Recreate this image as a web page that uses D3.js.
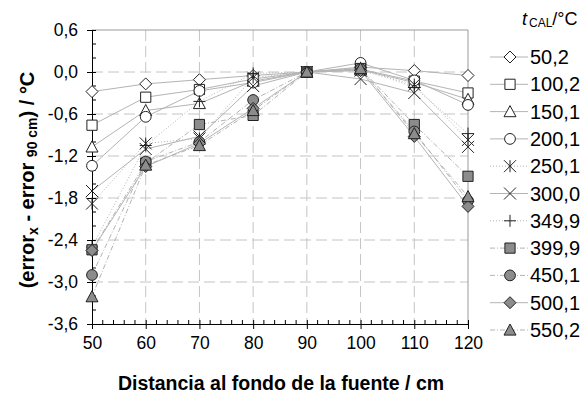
<!DOCTYPE html>
<html>
<head>
<meta charset="utf-8">
<script src="https://cdn.jsdelivr.net/npm/d3@7"></script>
<style>
body { margin: 0; background: #fff; }
text { font-family: Arial, "Liberation Sans", sans-serif; fill: #000; }
</style>
</head>
<body>
<div id="chart-area"></div>
<script>

// data
let distances = [50, 60, 70, 80, 90, 100, 110, 120];
let tCal = ["50,2", "100,2", "150,1", "200,1", "250,1", "300,0", "349,9", "399,9", "450,1", "500,1", "550,2"];
let s50  = [-0.28, -0.17, -0.11, -0.05, 0, 0.07, 0.02, -0.05];
let s100 = [-0.76, -0.36, -0.25, -0.10, 0, 0.04, -0.13, -0.30];
let s150 = [-1.07, -0.55, -0.45, -0.13, 0, 0.03, -0.15, -0.39];
let s200 = [-1.34, -0.64, -0.27, -0.15, 0, 0.13, -0.12, -0.47];
let s250 = [-1.88, -1.02, -0.95, -0.08, 0, 0.02, -0.18, -0.97];
let s300 = [-1.70, -1.10, -0.92, -0.20, 0, -0.10, -0.30, -1.07];
let s350 = [-2.50, -1.05, -0.42, -0.02, 0, 0.06, -0.22, -0.88];
let s400 = [-2.54, -1.30, -0.75, -0.62, 0, 0.05, -0.75, -1.49];
let s450 = [-2.90, -1.28, -1.00, -0.40, 0, 0.04, -0.85, -1.84];
let s500 = [-2.55, -1.35, -1.02, -0.52, 0, 0.02, -0.92, -1.92];
let s550 = [-3.21, -1.33, -1.05, -0.55, 0, 0.05, -0.88, -1.78];
let yTicks = [0.6, 0.0, -0.6, -1.2, -1.8, -2.4, -3.0, -3.6];

let allSeries = [s50, s100, s150, s200, s250, s300, s350, s400, s450, s500, s550];

// marker + line style per series
let markers = ["diamond", "square", "triangle", "circle", "asterisk", "times", "plus", "square", "circle", "diamond", "triangle"];
let filled = [false, false, false, false, false, false, false, true, true, true, true];
let dashes = [null, null, null, null, "1,2", null, "1,2", "5,2,1,2", "5,2,1,2", null, "5,2,1,2"];

let margin = {top: 30, right: 115, bottom: 80, left: 92};
let W = 583, H = 404;
let width = W - margin.left - margin.right,
	height = H - margin.top - margin.bottom;

let svg = d3.select("#chart-area").append("svg")
	.attr("width", W)
	.attr("height", H);

let g = svg.append("g")
	.attr("transform", "translate(" + margin.left + "," + margin.top + ")");

let x = d3.scaleLinear().domain([50, 120]).range([0, width]);
let y = d3.scaleLinear().domain([-3.6, 0.6]).range([height, 0]);

let fmt = d => d3.format(".1f")(d).replace(".", ",").replace("−", "-");

// grid
g.selectAll(".hgrid").data(yTicks.filter(d => d < 0.5 && d > -3.5))
	.enter().append("line")
	.attr("x1", 0).attr("x2", width)
	.attr("y1", d => y(d)).attr("y2", d => y(d))
	.attr("stroke", "#c4c4c4").attr("stroke-dasharray", "11,5");
g.selectAll(".vgrid").data(distances.filter(d => d > 50 && d < 120))
	.enter().append("line")
	.attr("x1", d => x(d)).attr("x2", d => x(d))
	.attr("y1", 0).attr("y2", height)
	.attr("stroke", "#c4c4c4").attr("stroke-dasharray", "11,5");

// top / right frame
g.append("line").attr("x1", 0).attr("x2", width).attr("y1", 0).attr("y2", 0).attr("stroke", "#999");
g.append("line").attr("x1", width).attr("x2", width).attr("y1", 0).attr("y2", height).attr("stroke", "#999");

// axes
let yAxis = g.append("g").call(d3.axisLeft(y).tickValues(yTicks).tickFormat(fmt).tickSize(5).tickPadding(9));
yAxis.select(".domain").attr("stroke", "#000");
yAxis.selectAll(".tick line").attr("x2", -5).attr("x1", 4);
yAxis.selectAll("text").style("font-size", "17.5px");

let minorY = d3.range(-3.6, 0.6001, 0.2).filter(v => !yTicks.some(t => Math.abs(t - v) < 1e-6));
g.selectAll(".minory").data(minorY).enter().append("line")
	.attr("x1", 0).attr("x2", 4).attr("y1", d => y(d)).attr("y2", d => y(d)).attr("stroke", "#000");

let xAxis = g.append("g").attr("transform", "translate(0," + height + ")")
	.call(d3.axisBottom(x).tickValues(distances).tickFormat(d3.format("d")).tickSize(5).tickPadding(8));
xAxis.select(".domain").attr("stroke", "#000");
xAxis.selectAll(".tick line").attr("y1", -4);
xAxis.selectAll("text").style("font-size", "17.5px");

let minorX = d3.range(50, 120, 2).filter(v => v % 10 !== 0);
g.selectAll(".minorx").data(minorX).enter().append("line")
	.attr("x1", d => x(d)).attr("x2", d => x(d)).attr("y1", height).attr("y2", height - 4).attr("stroke", "#000");

// marker paths
function markerPath(type, r) {
	switch (type) {
		case "diamond": return "M0," + (-r) + "L" + r + ",0L0," + r + "L" + (-r) + ",0Z";
		case "square": return "M" + (-r * 0.85) + "," + (-r * 0.85) + "h" + (1.7 * r) + "v" + (1.7 * r) + "h" + (-1.7 * r) + "Z";
		case "triangle": return "M0," + (-r) + "L" + r + "," + (r * 0.85) + "L" + (-r) + "," + (r * 0.85) + "Z";
		case "circle": return d3.arc()({innerRadius: 0, outerRadius: r * 0.9, startAngle: 0, endAngle: 2 * Math.PI});
		case "times": return "M" + (-r) + "," + (-r) + "L" + r + "," + r + "M" + r + "," + (-r) + "L" + (-r) + "," + r;
		case "plus": return "M0," + (-r) + "V" + r + "M" + (-r) + ",0H" + r;
		case "asterisk": return "M" + (-r) + "," + (-r) + "L" + r + "," + r + "M" + r + "," + (-r) + "L" + (-r) + "," + r + "M0," + (-r) + "V" + r;
	}
}

let line = d3.line().x((d, i) => x(distances[i])).y(d => y(d));

// lines first, then markers
allSeries.forEach(function(s, k) {
	g.append("path").datum(s)
		.attr("d", line)
		.attr("fill", "none")
		.attr("stroke", "#b4b4b4")
		.attr("stroke-width", 1)
		.attr("stroke-dasharray", dashes[k]);
});
allSeries.forEach(function(s, k) {
	g.selectAll(".m" + k).data(s).enter().append("path")
		.attr("transform", (d, i) => "translate(" + x(distances[i]) + "," + y(d) + ")")
		.attr("d", markerPath(markers[k], 6))
		.attr("fill", filled[k] ? "#8c8c8c" : "#fff")
		.attr("stroke", "#222")
		.attr("stroke-width", 1);
});

// legend
let legX = 490;
svg.append("text").attr("x", 522).attr("y", 25).style("font-size", "18px")
	.html('<tspan font-style="italic">t</tspan><tspan dx="2" font-size="12px" dy="2">CAL</tspan><tspan dy="-2">/°C</tspan>');

let leg = svg.selectAll(".leg").data(tCal).enter().append("g")
	.attr("transform", (d, i) => "translate(" + legX + "," + (57 + i * 27.3) + ")");
leg.append("line").attr("x1", 0).attr("x2", 38)
	.attr("stroke", "#b4b4b4").attr("stroke-dasharray", (d, i) => dashes[i]);
leg.append("path").attr("transform", "translate(20,0)")
	.attr("d", (d, i) => markerPath(markers[i], 6))
	.attr("fill", (d, i) => filled[i] ? "#8c8c8c" : "#fff")
	.attr("stroke", "#222");
leg.append("text").attr("x", 40).attr("y", 7).style("font-size", "20px").text(d => d);

// axis titles
svg.append("text")
	.attr("transform", "translate(34," + (margin.top + height / 2 + 3) + ") rotate(-90)")
	.attr("text-anchor", "middle")
	.style("font-size", "20px").style("font-weight", "bold")
	.html('(error<tspan font-size="14px" dy="4">x</tspan><tspan dy="-4"> - error </tspan><tspan font-size="14px" dy="3">90 cm</tspan><tspan dy="-3">) / °C</tspan>');

svg.append("text")
	.attr("x", margin.left + width / 2 + 1).attr("y", 390)
	.attr("text-anchor", "middle")
	.style("font-size", "19.5px").style("font-weight", "bold")
	.text("Distancia al fondo de la fuente / cm");

</script>
</body>
</html>
